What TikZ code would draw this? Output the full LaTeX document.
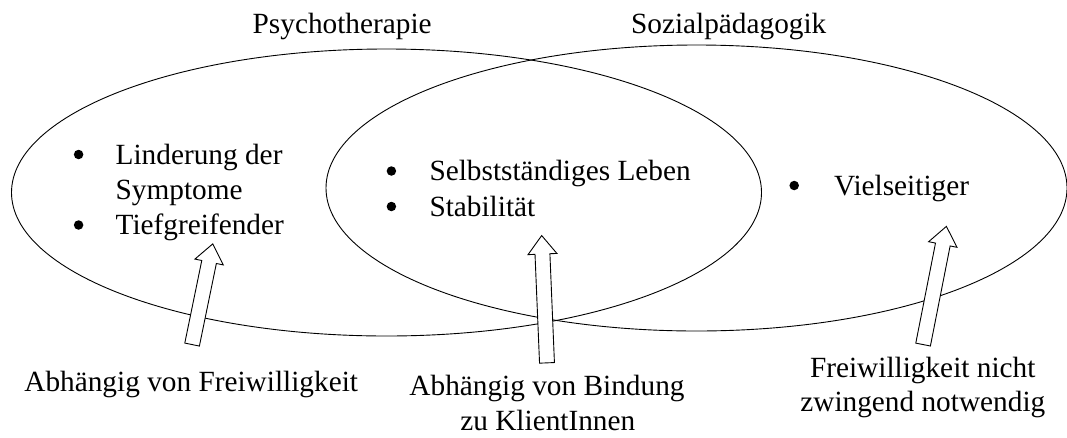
\documentclass[tikz,border=0pt]{standalone}
\usepackage{fontspec}
\setmainfont{Liberation Serif}
\usetikzlibrary{shapes.geometric,shapes.arrows,calc}
\tikzset{
  lbl/.style={inner sep=0pt, font=\fontsize{29.3}{35}\selectfont},
  circ/.style={draw, ellipse, inner sep=0pt, line width=0.9pt},
  dot/.style={circle, fill=black, inner sep=0pt, minimum size=9.5pt},
  blockarrow/.style={single arrow, draw, fill=white, line width=0.9pt,
    inner xsep=0pt, inner ysep=7pt, minimum width=0pt,
    single arrow head extend=7pt, single arrow tip angle=76}
}
\begin{document}
\begin{tikzpicture}[x=1pt,y=-1pt]
\useasboundingbox (0,0) rectangle (1067,437);
% ellipses
\node[circ, minimum width=750pt, minimum height=287pt] (psy) at (386.5,192.5) {};
\node[circ, minimum width=741pt, minimum height=286pt] (soz) at (696.5,188) {};
% titles
\node[lbl, anchor=base] (tpsy) at (342.2,33.3) {Psychotherapie};
\node[lbl, anchor=base] (tsoz) at (728.7,33.3) {Sozialpädagogik};
% left list
\node[dot] (b1) at (78.6,154.5) {};
\node[lbl, anchor=base west] (l1) at (115.5,164) {Linderung der};
\node[lbl, anchor=base west] (l1b) at (115.5,199) {Symptome};
\node[dot] (b2) at (78.6,225) {};
\node[lbl, anchor=base west] (l2) at (115.5,234.5) {Tiefgreifender};
% middle list
\node[dot] (b3) at (391.4,171) {};
\node[lbl, anchor=base west] (m1) at (429.3,180.5) {Selbstständiges Leben};
\node[dot] (b4) at (391.4,206.5) {};
\node[lbl, anchor=base west] (m2) at (429.3,216) {Stabilität};
% right list
\node[dot] (b5) at (794.2,185.5) {};
\node[lbl, anchor=base west] (r1) at (833.9,195) {Vielseitiger};
% bottom labels
\node[lbl, anchor=base] (f1) at (191.2,391.7) {Abhängig von Freiwilligkeit};
\node[lbl, anchor=base] (f2) at (547,395) {Abhängig von Bindung};
\node[lbl, anchor=base] (f2b) at (547.8,430) {zu KlientInnen};
\node[lbl, anchor=base] (f3) at (922.7,377.3) {Freiwilligkeit nicht};
\node[lbl, anchor=base] (f3b) at (922.8,411.7) {zwingend notwendig};
% block arrows
\coordinate (s1) at (192,345);   \coordinate (e1) at (212.7,244.3);
\coordinate (s2) at (547,363.3); \coordinate (e2) at (541.7,236);
\coordinate (s3) at (923,345);   \coordinate (e3) at (946.3,226.8);
\path let \p1=($(e1)-(s1)$), \n1={atan2(\y1,\x1)}, \n2={veclen(\x1,\y1)} in
  node[blockarrow, minimum height=\n2, rotate=\n1, anchor=tail] (a1) at (s1) {};
\path let \p1=($(e2)-(s2)$), \n1={atan2(\y1,\x1)}, \n2={veclen(\x1,\y1)} in
  node[blockarrow, minimum height=\n2, rotate=\n1, anchor=tail] (a2) at (s2) {};
\path let \p1=($(e3)-(s3)$), \n1={atan2(\y1,\x1)}, \n2={veclen(\x1,\y1)} in
  node[blockarrow, minimum height=\n2, rotate=\n1, anchor=tail] (a3) at (s3) {};
\end{tikzpicture}
\end{document}
